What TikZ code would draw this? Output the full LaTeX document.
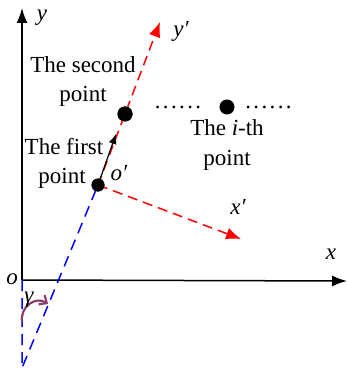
\documentclass[tikz,border=0pt]{standalone}
\usepackage{fontspec}
\setmainfont{Liberation Serif}
\usetikzlibrary{arrows.meta}
\newcommand\mydotrow{.\kern2.4pt.\kern2.4pt.\kern2.4pt.\kern2.4pt.\kern2.4pt.}
\definecolor{arcpurple}{HTML}{8E3C6A}
\begin{document}
\begin{tikzpicture}[x=1pt,y=-1pt,
  lbl/.style={font=\fontsize{23}{30}\selectfont, inner sep=0pt, align=center},
  var/.style={font=\fontsize{23}{30}\selectfont\itshape, inner sep=0pt},
  axis/.style={line width=1.5pt, -{Latex[length=15pt,width=11pt]}},
  reddash/.style={draw=red, line width=1.5pt, dash pattern=on 10pt off 6pt, -{Latex[length=15pt,width=12pt]}},
  bluedash/.style={draw=blue, line width=1.5pt, dash pattern=on 11pt off 7pt},
  pt/.style={circle, fill=black, inner sep=0pt}]
\useasboundingbox (0,0) rectangle (347,374);
% coordinates
\coordinate (O) at (22,280);
\coordinate (ytip) at (22,8);
\coordinate (xtip) at (347,281);
\coordinate (B) at (22,368);
\node[pt, minimum size=13pt] (op) at (98,185) {};
\node[pt, minimum size=15pt] (p2) at (125,114) {};
\node[pt, minimum size=15pt] (pi) at (227,107) {};
\coordinate (yptip) at (160,22);
\coordinate (xptip) at (241,239);
\coordinate (atip) at (116,134);
\coordinate (g1) at (22,322);
\coordinate (g2) at (48,304);
% axes
\draw[axis] (O) -- (ytip);
\draw[axis] (O) -- (xtip);
% blue dashed
\draw[bluedash] (O) -- (B) -- (op.center);
% red dashed axes
\draw[reddash] (op.center) -- (yptip);
\draw[reddash] (op.center) -- (xptip);
% black arrow
\draw[line width=1.2pt, -{Latex[length=10pt,width=8pt]}] (op.center) -- (atip);
% redraw dots on top
\node[pt, minimum size=13pt] at (op) {};
\node[pt, minimum size=15pt] at (p2) {};
% gamma arc
\draw[arcpurple, line width=2.2pt, -{Straight Barb[length=6pt,width=11pt]}] (g1) .. controls (20,306) and (36,296) .. (g2);
% dot rows
\node[lbl] (dl) at (178,107) {\mydotrow};
\node[lbl] (dr) at (268.5,107) {\mydotrow};
% labels
\node[var] (ly) at (42,18) {y};
\node[var] (lx) at (331,254) {x};
\node[var] (lyp) at (181,31) {y′};
\node[var] (lxp) at (238,207) {x′};
\node[var] (lop) at (119,173) {o′};
\node[var] (lo) at (12,279) {o};
\node[var] (lg) at (29,300) {γ};
\node[lbl] (t2a) at (83,65) {The second};
\node[lbl] (t2b) at (83,96) {point};
\node[lbl] (t1a) at (64,147) {The first};
\node[lbl] (t1b) at (62,178) {point};
\node[lbl] (tia) at (227,128) {The \textit{i}-th};
\node[lbl] (tib) at (227,160) {point};
\end{tikzpicture}
\end{document}
